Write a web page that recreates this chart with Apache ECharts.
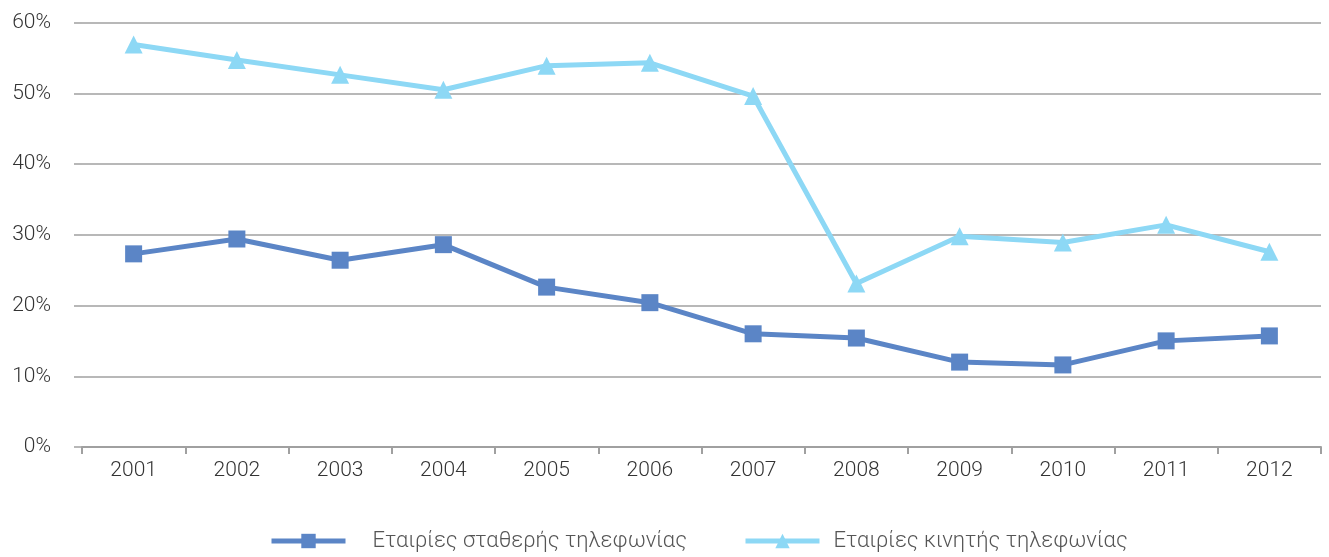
<!DOCTYPE html>
<html>
<head>
<meta charset="utf-8">
<script src="https://cdn.jsdelivr.net/npm/echarts@6/dist/echarts.min.js"></script>
<style>
  html, body { margin: 0; padding: 0; background: #fff; }
  #chart { width: 1329px; height: 557px; }
</style>
</head>
<body>
<div id="chart"></div>
<script>
var years = ['2001', '2002', '2003', '2004', '2005', '2006', '2007', '2008', '2009', '2010', '2011', '2012']
var fixedName = 'Εταιρίες σταθερής τηλεφωνίας'
var mobileName = 'Εταιρίες κινητής τηλεφωνίας'
var fixedValues = [27.3, 29.4, 26.4, 28.6, 22.6, 20.4, 16.0, 15.4, 12.0, 11.6, 15.0, 15.7]
var mobileValues = [56.9, 54.7, 52.6, 50.5, 53.9, 54.3, 49.6, 23.1, 29.8, 28.9, 31.4, 27.6]

var font = 'Roboto'
var dom = echarts.init(document.getElementById('chart'))

// one legend per series so each item can sit where the original has it
function legendAt(left, name, textPad) {
    return {
        left: left,
        bottom: 0,
        itemWidth: 74,
        itemHeight: 18,
        lineStyle: { width: 5 },
        textStyle: {
            fontFamily: font,
            fontWeight: 300,
            fontSize: 22,
            color: '#555',
            padding: [0, 0, 0, textPad]
        },
        data: [name]
    }
}

dom.setOption({
    animation: false,
    grid: {
        left: 82,
        right: 8,
        top: 22.5,
        bottom: 110
    },
    legend: [
        legendAt(264, fixedName, 22),
        legendAt(738, mobileName, 9)
    ],
    xAxis: {
        type: 'category',
        data: years,
        boundaryGap: true,
        axisLine: { lineStyle: { color: '#a0a0a0', width: 2 } },
        axisTick: { show: true, length: 7, lineStyle: { color: '#a0a0a0', width: 2 } },
        axisLabel: {
            margin: 13,
            fontFamily: font,
            fontWeight: 300,
            fontSize: 21,
            color: '#333'
        }
    },
    yAxis: {
        type: 'value',
        min: 0,
        max: 60,
        interval: 10,
        axisLine: { show: false },
        axisTick: { show: true, length: 8, lineStyle: { color: '#a0a0a0', width: 1.5 } },
        splitLine: { lineStyle: { color: '#a0a0a0', width: 1.5 } },
        axisLabel: {
            margin: 31,
            fontFamily: font,
            fontWeight: 300,
            fontSize: 21,
            color: '#333',
            formatter: '{value}%'
        }
    },
    series: [
        {
            name: fixedName,
            type: 'line',
            data: fixedValues,
            symbol: 'rect',
            symbolSize: 17,
            itemStyle: { color: '#5b85c6' },
            lineStyle: { color: '#5b85c6', width: 5 }
        },
        {
            name: mobileName,
            type: 'line',
            data: mobileValues,
            symbol: 'triangle',
            symbolSize: 18,
            itemStyle: { color: '#8dd8f5' },
            lineStyle: { color: '#8dd8f5', width: 5 }
        }
    ]
})
</script>
</body>
</html>
